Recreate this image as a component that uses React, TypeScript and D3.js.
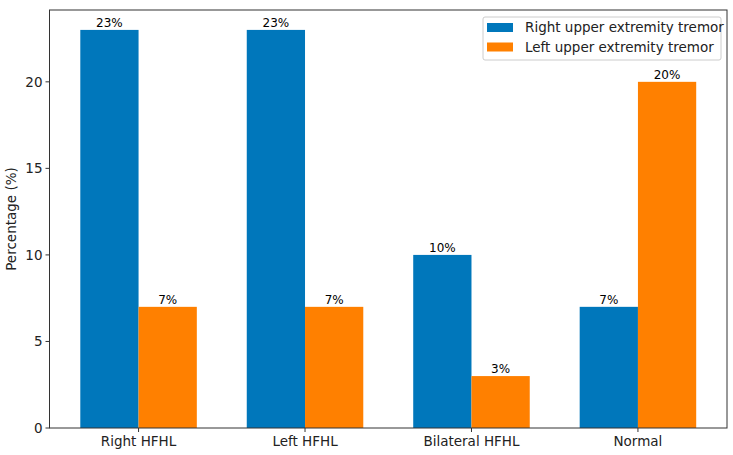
import * as d3 from "d3";
import React from "react";

const categories = ["Right HFHL", "Left HFHL", "Bilateral HFHL", "Normal"];
const rightTremor = [23, 23, 10, 7];
const leftTremor = [7, 7, 3, 20];
const seriesNames = ["Right upper extremity tremor", "Left upper extremity tremor"];
const yTicks = [0, 5, 10, 15, 20];

const COLORS = ["#0077bb", "#ff8000"];
const FONT = "DejaVu Sans, sans-serif";

const App: React.FC = () => {
  const width = 733;
  const height = 455;
  const margin = { top: 10, right: 6, bottom: 27, left: 49.5 };
  const barW = 0.35;

  const x = d3
    .scaleLinear()
    .domain([-0.535, 3.535])
    .range([margin.left, width - margin.right]);
  const y = d3
    .scaleLinear()
    .domain([0, 24.15])
    .range([height - margin.bottom, margin.top]);

  const series = [rightTremor, leftTremor];

  return (
    <svg
      width={width}
      height={height}
      style={{ position: "absolute", left: 0, top: 0, fontFamily: FONT }}
    >
      <rect width={width} height={height} fill="#fff" />
      {series.map((vals, si) =>
        vals.map((v, i) => {
          const x0 = x(i + (si === 0 ? -barW : 0));
          const x1 = x(i + (si === 0 ? 0 : barW));
          return (
            <g key={`${si}-${i}`}>
              <rect
                x={x0}
                y={y(v)}
                width={x1 - x0}
                height={y(0) - y(v)}
                fill={COLORS[si]}
              />
              <text
                x={(x0 + x1) / 2}
                y={y(v) - 3}
                textAnchor="middle"
                fontSize={12}
                fill="#000"
              >
                {v}%
              </text>
            </g>
          );
        })
      )}
      {/* frame */}
      <rect
        x={margin.left}
        y={margin.top}
        width={width - margin.right - margin.left}
        height={height - margin.bottom - margin.top}
        fill="none"
        stroke="#333"
        strokeWidth={1}
      />
      {/* y axis */}
      {yTicks.map((t) => (
        <g key={t}>
          <line x1={margin.left - 4} x2={margin.left} y1={y(t)} y2={y(t)} stroke="#333" />
          <text
            x={margin.left - 7}
            y={y(t)}
            dy="0.35em"
            textAnchor="end"
            fontSize={13.5}
            fill="#222"
          >
            {t}
          </text>
        </g>
      ))}
      <text
        transform={`translate(16,${(margin.top + height - margin.bottom) / 2}) rotate(-90)`}
        textAnchor="middle"
        fontSize={13.5}
        fill="#222"
      >
        Percentage (%)
      </text>
      {/* x axis */}
      {categories.map((c, i) => (
        <g key={c}>
          <line
            x1={x(i)}
            x2={x(i)}
            y1={height - margin.bottom}
            y2={height - margin.bottom + 4}
            stroke="#333"
          />
          <text
            x={x(i)}
            y={height - margin.bottom + 18}
            textAnchor="middle"
            fontSize={13.5}
            fill="#222"
          >
            {c}
          </text>
        </g>
      ))}
      {/* legend */}
      <g>
        <rect
          x={483}
          y={17}
          width={238}
          height={43}
          rx={2}
          fill="#fff"
          fillOpacity={0.8}
          stroke="#ccc"
        />
        {seriesNames.map((n, i) => (
          <g key={n} transform={`translate(487,${23 + i * 19.5})`}>
            <rect width={26} height={9} fill={COLORS[i]} />
            <text x={38} y={4.5} dy="0.35em" fontSize={13.5} fill="#222">
              {n}
            </text>
          </g>
        ))}
      </g>
    </svg>
  );
};

export default App;
